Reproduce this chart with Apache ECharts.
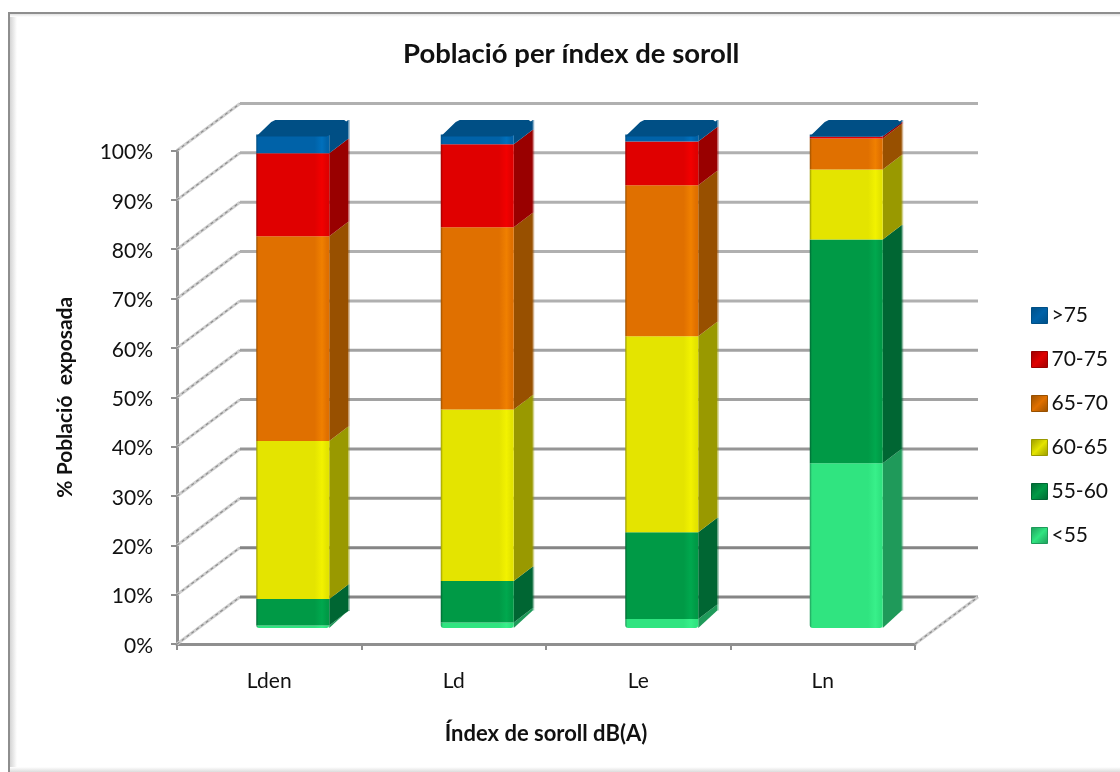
<!DOCTYPE html>
<html><head><meta charset="utf-8">
<style>html,body{margin:0;padding:0;background:#fff}#c{width:1120px;height:772px}</style>
<script src="https://cdn.jsdelivr.net/npm/echarts@6/dist/echarts.min.js"></script>
</head><body><div id="c"></div>
<script>
const categories = ['Lden','Ld','Le','Ln'];
const bandNames = ['<55','55-60','60-65','65-70','70-75','>75'];
const below55 = [0.5,1.1,1.8,33.4];
const from55to60 = [5.4,8.4,17.6,45.3];
const from60to65 = [32.0,34.8,39.7,14.2];
const from65to70 = [41.5,36.9,30.6,6.3];
const from70to75 = [16.8,16.8,8.9,0.4];
const above75 = [3.8,2.0,1.4,0.4];
const bandValues = [below55,from55to60,from60to65,from65to70,from70to75,above75];
const gridTicks = [0,10,20,30,40,50,60,70,80,90,100];

const frontColors = ['#30e480','#009a46','#e4e400','#e07000','#e00000','#0062a8'];
const brightColors = ['#38f08a','#00a84e','#f2f200','#f08000','#f20000','#0070bc'];
const sideColors  = ['#1f9a5a','#006633','#999900','#985000','#990000','#004f85'];
const FONT = 'Lato';
const BAR_W = 73, BAR_DX = 23.5, BAR_DY = -16, SIDE_DX = 19, SIDE_DY = -14.5, WALL_DX = 63, WALL_DY = -47;

function wallItem(params, api){
  const v = api.value(1), cs = params.coordSys, y = api.coord([0, v])[1];
  const x0 = cs.x, bx = x0 + WALL_DX, by = y + WALL_DY, bxr = cs.x + cs.width + WALL_DX;
  const col = v >= 60 ? '#b0b0b0' : v >= 40 ? '#a2a2a2' : v >= 20 ? '#959595' : '#858585';
  const kids = [
    {type:'line',shape:{x1:x0,y1:y,x2:bx,y2:by},style:{stroke:'#cfcfcf',lineWidth:3}},
    {type:'line',shape:{x1:x0,y1:y,x2:bx,y2:by},style:{stroke:'#8c8c8c',lineWidth:1.2,lineDash:[3,3]}},
    {type:'line',shape:{x1:bx,y1:by,x2:bxr,y2:by},style:{stroke:col,lineWidth:3}}
  ];
  if (v === 0) {
    kids.push({type:'line',shape:{x1:cs.x+cs.width,y1:y,x2:bxr,y2:by},style:{stroke:'#cfcfcf',lineWidth:3}});
    kids.push({type:'line',shape:{x1:cs.x+cs.width,y1:y,x2:bxr,y2:by},style:{stroke:'#8c8c8c',lineWidth:1.2,lineDash:[3,3]}});
  }
  return {type:'group',children:kids};
}

function makeBarItem(band){
  return function(params, api){
    const cat = api.value(0), lo = api.value(1), hi = api.value(2);
    const pLo = api.coord([cat, lo]), pHi = api.coord([cat, hi]);
    const x = pLo[0] + BAR_DX - BAR_W/2, r = x + BAR_W;
    const yLo = pLo[1] + BAR_DY, yHi = pHi[1] + BAR_DY;
    const grad = {type:'linear',x:0,y:0,x2:1,y2:0,colorStops:[
      {offset:0,color:sideColors[band]},{offset:0.03,color:frontColors[band]},
      {offset:0.8,color:frontColors[band]},{offset:0.9,color:brightColors[band]},
      {offset:0.97,color:frontColors[band]},{offset:1,color:frontColors[band]}]};
    const isFirst = band === 0, isLast = band === bandNames.length - 1;
    const kids = [];
    const sx = r + SIDE_DX;
    const bevel = isFirst ? 3 : 0;
    kids.push({type:'polygon',shape:{points:[[r,yLo],[sx,yLo+SIDE_DY-bevel],[sx,yHi+SIDE_DY],[r,yHi]]},style:{fill:sideColors[band]}});
    kids.push({type:'line',shape:{x1:sx+0.5,y1:yLo+SIDE_DY-bevel,x2:sx+0.5,y2:yHi+SIDE_DY},style:{stroke:sideColors[band],lineWidth:2,opacity:0.45}});
    kids.push({type:'rect',shape:{x:x,y:yHi,width:BAR_W,height:Math.max(yLo-yHi,1),r:isFirst?[0,0,3,3]:0},style:{fill:grad}});
    if (isLast) {
      const t = yHi, b = SIDE_DX, h = SIDE_DY;
      kids.push({type:'polygon',shape:{points:[
        [x,t+2],[x+b-4,t+h+2],[x+b,t+h],[r+b-4,t+h],[r+b,t+h+3],[r+b-3,t+h+5],[r+2,t],[r-3,t+2],[x+4,t+2]
      ]},style:{fill:'#004f85'}});
    }
    return {type:'group',children:kids};
  };
}

const barSeries = bandNames.map((name,b)=>({
  name:name,type:'custom',z:3+b,
  coordinateSystem:'cartesian2d',
  itemStyle:{color:frontColors[b]},
  encode:{x:0,y:[1,2]},
  renderItem:makeBarItem(b),
  data:categories.map((c,i)=>{
    let lo=0;for(let k=0;k<b;k++)lo+=bandValues[k][i];
    return [i,lo,lo+bandValues[b][i]];
  })
}));
const wallSeries = {type:'custom',z:1,silent:true,coordinateSystem:'cartesian2d',encode:{x:0,y:1},
  renderItem:wallItem,data:gridTicks.map(v=>[0,v])};

const legendData = bandNames.map((n,b)=>({name:n,itemStyle:{
  color:{type:'linear',x:0,y:0,x2:1,y2:1,colorStops:[{offset:0,color:sideColors[b]},{offset:0.5,color:frontColors[b]},{offset:1,color:sideColors[b]}]},
  borderColor:sideColors[b],borderWidth:1}})).reverse();

const chart = echarts.init(document.getElementById('c'),null,{renderer:'canvas'});
chart.setOption({
  animation:false,backgroundColor:'#fff',
  textStyle:{fontFamily:FONT},
  title:{text:'Població per índex de soroll',left:398,top:35,
    textStyle:{fontFamily:FONT,fontSize:27.5,fontWeight:'bold',color:'#111'}},
  grid:{left:177,right:205,top:150.5,bottom:128,containLabel:false},
  xAxis:{type:'category',data:categories,
    name:'Índex de soroll dB(A)',nameLocation:'middle',nameGap:79,
    nameTextStyle:{fontFamily:FONT,fontSize:22,fontWeight:'bold',color:'#111'},
    axisLine:{show:true,lineStyle:{color:'#8f8f8f',width:3}},
    axisTick:{show:true,length:6,alignWithLabel:false,lineStyle:{color:'#8f8f8f',width:2}},
    axisLabel:{show:true,margin:27,fontSize:21,color:'#111',fontFamily:FONT},
    splitLine:{show:false}},
  yAxis:{type:'value',min:0,max:100,interval:10,
    name:'% Població  exposada',nameLocation:'middle',nameGap:101,
    nameTextStyle:{fontFamily:FONT,fontSize:21,fontWeight:'bold',color:'#111'},
    axisLine:{show:true,lineStyle:{color:'#8f8f8f',width:3}},
    axisTick:{show:true,length:6,lineStyle:{color:'#8f8f8f',width:2}},
    axisLabel:{show:true,margin:24,fontSize:21,color:'#111',fontFamily:FONT,formatter:'{value}%',verticalAlign:'top',lineHeight:4},
    splitLine:{show:false}},
  legend:{orient:'vertical',left:1026,top:300,itemWidth:16,itemHeight:16,itemGap:23,icon:'rect',
    selectedMode:false,data:legendData,
    textStyle:{fontFamily:FONT,fontSize:21,lineHeight:16,color:'#111',padding:[0,0,0,-1]}},
  graphic:{elements:[
    {type:'rect',silent:true,z:-1,shape:{x:10,y:14,width:7,height:756},style:{fill:{type:'linear',x:0,y:0,x2:1,y2:0,colorStops:[{offset:0,color:'#d4d4d4'},{offset:1,color:'#ffffff'}]}}},
    {type:'rect',silent:true,z:-1,shape:{x:10,y:14,width:1110,height:3},style:{fill:{type:'linear',x:0,y:0,x2:0,y2:1,colorStops:[{offset:0,color:'#e2e2e2'},{offset:1,color:'#ffffff'}]}}},
    {type:'rect',silent:true,z:-1,shape:{x:10,y:767,width:1110,height:5},style:{fill:{type:'linear',x:0,y:0,x2:0,y2:1,colorStops:[{offset:0,color:'#ffffff'},{offset:1,color:'#dcdcdc'}]}}},
    {type:'line',silent:true,z:-1,shape:{x1:9,y1:12,x2:9,y2:772},style:{stroke:'#8e8e8e',lineWidth:2}},
    {type:'line',silent:true,z:-1,shape:{x1:8,y1:13,x2:1120,y2:13},style:{stroke:'#8e8e8e',lineWidth:2}}
  ]},
  series:[wallSeries].concat(barSeries)
});
</script></body></html>
